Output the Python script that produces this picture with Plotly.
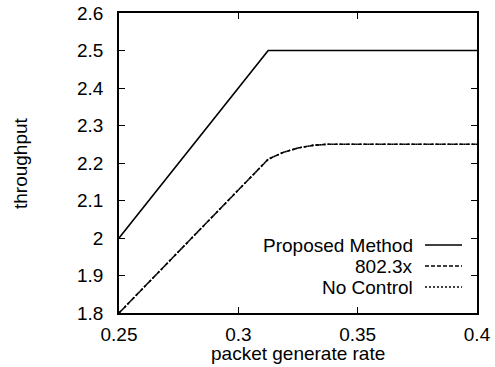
import plotly.graph_objects as go

# Data
proposed_x = [0.25, 0.3125, 0.325, 0.35, 0.375, 0.4]
proposed_y = [2.0, 2.5, 2.5, 2.5, 2.5, 2.5]

ieee_x = [0.25, 0.3125, 0.3187, 0.325, 0.3312, 0.3375, 0.35, 0.375, 0.4]
ieee_y = [1.8, 2.21, 2.228, 2.24, 2.247, 2.25, 2.25, 2.25, 2.25]

noctl_x = [0.25, 0.3125, 0.3187, 0.325, 0.3312, 0.3375, 0.35, 0.375, 0.4]
noctl_y = [1.8, 2.21, 2.228, 2.24, 2.247, 2.25, 2.25, 2.25, 2.25]

legend_names = ["Proposed Method", "802.3x", "No Control"]
legend_dashes = ["solid", "4px,2px", "2px,2px"]

x_ticks = [0.25, 0.3, 0.35, 0.4]
x_labels = ["0.25", "0.3", "0.35", "0.4"]
y_ticks = [1.8, 1.9, 2.0, 2.1, 2.2, 2.3, 2.4, 2.5, 2.6]
y_labels = ["1.8", "1.9", "2", "2.1", "2.2", "2.3", "2.4", "2.5", "2.6"]

x_title = "packet generate rate"
y_title = "throughput"

FONT = "Liberation Sans, Arial, sans-serif"
FS = 19

W, H = 495, 367
ML, MR, MT, MB = 119, 18, 13, 54

fig = go.Figure()
fig.add_trace(go.Scatter(x=proposed_x, y=proposed_y, mode="lines",
                         line=dict(color="black", width=1.7, dash=legend_dashes[0]),
                         name=legend_names[0], showlegend=False))
fig.add_trace(go.Scatter(x=ieee_x, y=ieee_y, mode="lines",
                         line=dict(color="black", width=1.6, dash=legend_dashes[1]),
                         name=legend_names[1], showlegend=False))
fig.add_trace(go.Scatter(x=noctl_x, y=noctl_y, mode="lines",
                         line=dict(color="black", width=1.6, dash=legend_dashes[2]),
                         name=legend_names[2], showlegend=False))

axis_common = dict(showgrid=False, zeroline=False, showline=True, linecolor="black",
                   linewidth=1.8, mirror="ticks", ticks="inside", ticklen=6,
                   tickwidth=1.3, tickcolor="black", automargin=False,
                   ticklabeloverflow="allow",
                   tickfont=dict(family=FONT, size=FS, color="black"))

fig.update_xaxes(range=[0.25, 0.4], tickvals=x_ticks, ticktext=x_labels,
                 ticklabelstandoff=3, **axis_common)
fig.update_yaxes(range=[1.8, 2.6], tickvals=y_ticks, ticktext=y_labels,
                 ticklabelstandoff=10, **axis_common)

pw, ph = W - ML - MR, H - MT - MB
def fx(px):  # figure pixel -> paper x
    return (px - ML) / pw
def fy(py):  # figure pixel -> paper y
    return (H - MB - py) / ph

# Axis titles
fig.add_annotation(x=0.5, y=fy(353), xref="paper", yref="paper", text=x_title,
                   showarrow=False, xanchor="center", yanchor="middle",
                   font=dict(family=FONT, size=FS, color="black"))
fig.add_annotation(x=fx(20), y=0.5, xref="paper", yref="paper", text=y_title,
                   textangle=-90, showarrow=False, xanchor="center", yanchor="middle",
                   font=dict(family=FONT, size=FS, color="black"))

# Manual legend (text right-aligned, sample line on the right)
legend_rows_px = [245, 266, 287]
for name, dash, py in zip(legend_names, legend_dashes, legend_rows_px):
    fig.add_annotation(x=fx(415), y=fy(py), xref="paper", yref="paper",
                       text=name, showarrow=False, xanchor="right", yanchor="middle",
                       font=dict(family=FONT, size=FS, color="black"))
    fig.add_shape(type="line", xref="paper", yref="paper",
                  x0=fx(425), x1=fx(462), y0=fy(py), y1=fy(py),
                  line=dict(color="black", width=1.4, dash=dash))

fig.update_layout(width=W, height=H,
                  margin=dict(l=ML, r=MR, t=MT, b=MB),
                  paper_bgcolor="white", plot_bgcolor="white",
                  font=dict(family=FONT, size=FS, color="black"))

# Remove the default 8px page margin so the figure fills the window exactly
fig.write_html("out.html", config={"displayModeBar": False},
               post_script="document.body.style.margin='0';")
